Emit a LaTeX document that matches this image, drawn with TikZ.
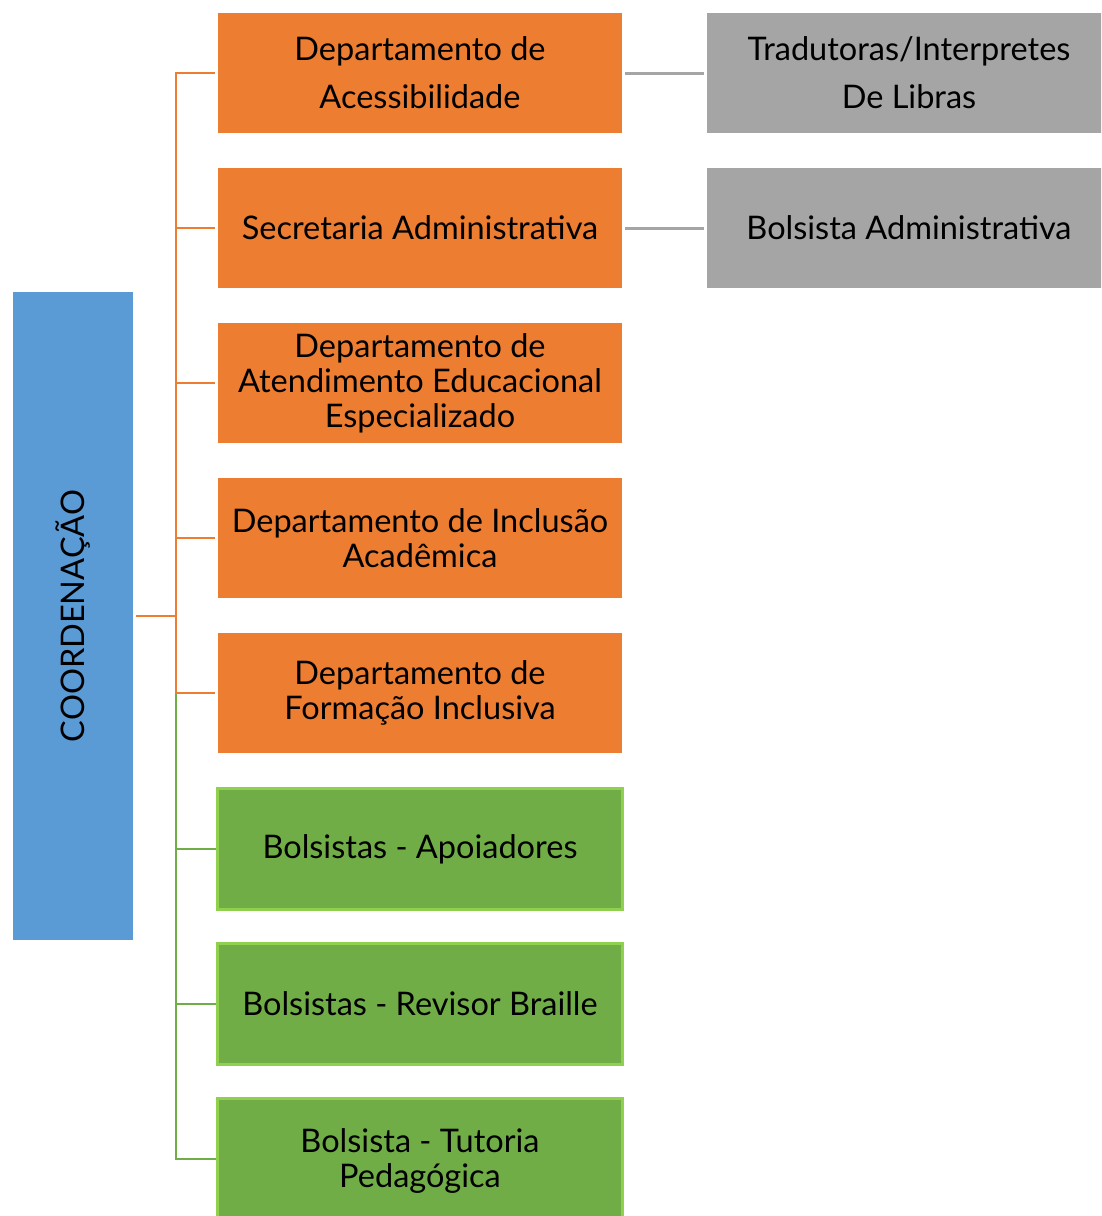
\documentclass[tikz,border=0pt]{standalone}
\usepackage{fontspec}
\setmainfont{Lato}
\definecolor{corange}{HTML}{ED7D31}
\definecolor{cblue}{HTML}{5B9BD5}
\definecolor{cgray}{HTML}{A5A5A5}
\definecolor{cgreen}{HTML}{70AD47}
\definecolor{cgreenline}{HTML}{8FD14F}
\tikzset{
  box/.style={inner sep=0pt, align=center, text=black,
    font=\fontsize{32.5pt}{35pt}\selectfont},
  obox/.style={box, fill=corange, minimum width=404pt, minimum height=120pt},
  gbox/.style={box, fill=cgray, minimum width=404pt, minimum height=120pt},
  grbox/.style={box, fill=cgreen, draw=cgreenline, line width=3pt, minimum width=405pt, minimum height=121pt},
  oline/.style={corange, line width=2pt},
  grline/.style={cgreen, line width=2pt},
  gyline/.style={cgray, line width=3pt},
}
\begin{document}
\begin{tikzpicture}[x=1pt,y=-1pt]
\clip (0,0) rectangle (1101,1216);
\fill[white] (0,0) rectangle (1101,1216);
\node[box, fill=cblue, minimum width=120pt, minimum height=648pt] (coord) at (73,616) {};
\node[box, rotate=90] (coordt) at (73,616) {COORDENAÇÃO};

\node[obox] (o1) at (420,73) {Departamento de\\[13pt]Acessibilidade};
\node[obox] (o2) at (420,228) {Secretaria Administrativa};
\node[obox] (o3) at (420,383) {Departamento de\\Atendimento Educacional\\Especializado};
\node[obox] (o4) at (420,538) {Departamento de Inclusão\\Acadêmica};
\node[obox] (o5) at (420,693) {Departamento de\\Formação Inclusiva};

\node[grbox] (g1) at (420,849) {Bolsistas - Apoiadores};
\node[grbox] (g2) at (420,1004) {Bolsistas - Revisor Braille};
\node[grbox, minimum height=124pt] (g3) at (420,1160.5) {Bolsista - Tutoria\\Pedagógica};

\node[gbox] (t1) at (909,73) {Tradutoras/Interpretes\\[13pt]De Libras};
\node[gbox] (t2) at (909,228) {Bolsista Administrativa};

\coordinate (tr) at (176,616);
\draw[oline] ([xshift=3pt]coord.east) -- (tr);
\draw[oline] (tr) -- (176,73) -- ([xshift=-3pt]o1.west);
\draw[oline] (176,228) -- ([xshift=-3pt]o2.west);
\draw[oline] (176,383) -- ([xshift=-3pt]o3.west);
\draw[oline] (176,538) -- ([xshift=-3pt]o4.west);
\draw[grline] (176,693) -- (176,1159) -- (g3.west |- 0,1159);
\draw[grline] (176,849) -- (g1.west);
\draw[grline] (176,1004) -- (g2.west);
\draw[oline] (tr) -- (176,693) -- ([xshift=-3pt]o5.west);

\draw[gyline] ([xshift=3pt]o1.east) -- ([xshift=-3pt]t1.west);
\draw[gyline] ([xshift=3pt]o2.east) -- ([xshift=-3pt]t2.west);
\end{tikzpicture}
\end{document}
